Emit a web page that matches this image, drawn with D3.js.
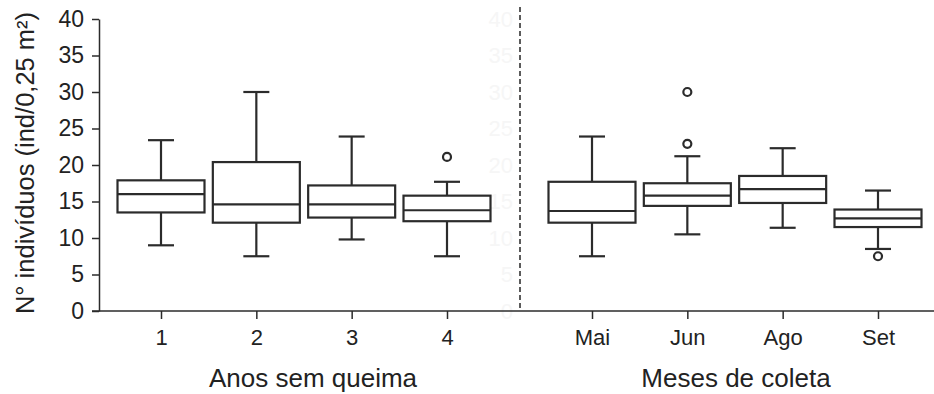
<!DOCTYPE html>
<html>
<head>
<meta charset="utf-8">
<script src="https://cdn.jsdelivr.net/npm/d3@7"></script>
<style>
  body { margin: 0; background: #fff; }
  svg text { font-family: "Liberation Sans", Arial, sans-serif; fill: #222; }
</style>
</head>
<body>
<div id="chart"></div>
<script>
// categories
const anos = ['1', '2', '3', '4'];
const meses = ['Mai', 'Jun', 'Ago', 'Set'];
const categories = anos.concat(meses);

// box statistics, same order as categories
const whiskLow = [9.0, 7.5, 9.8, 7.5, 7.5, 10.5, 11.4, 8.5];
const q1       = [13.5, 12.1, 12.8, 12.3, 12.1, 14.4, 14.8, 11.5];
const median   = [16.0, 14.6, 14.6, 13.8, 13.7, 15.8, 16.7, 12.7];
const q3       = [17.9, 20.4, 17.2, 15.8, 17.7, 17.5, 18.5, 13.9];
const whiskHigh = [23.4, 30.0, 23.9, 17.7, 23.9, 21.2, 22.3, 16.5];
const outliers = [[], [], [], [21.1], [], [30.0, 22.9], [], [7.5]];

const yTicks = [0, 5, 10, 15, 20, 25, 30, 35, 40];

const W = 934, H = 394;
const ink = '#2b2b2b';

const svg = d3.select('#chart').append('svg')
    .attr('width', W)
    .attr('height', H);

const y = d3.scaleLinear().domain([0, 40]).range([311, 19]);
const xA = d3.scalePoint().domain(anos).range([161, 447]);
const xB = d3.scalePoint().domain(meses).range([592, 878]);
const xPos = (c) => anos.includes(c) ? xA(c) : xB(c);
const boxW = 87, capW = 26;

// faint ghost axis labels in the middle
svg.append('g')
    .selectAll('text')
    .data(yTicks)
    .join('text')
    .attr('x', 513)
    .attr('y', d => y(d))
    .attr('dy', '0.35em')
    .attr('text-anchor', 'end')
    .style('font-size', '22px')
    .style('fill', '#f6f6f6')
    .text(d => d);

// divider
svg.append('line')
    .attr('x1', 520).attr('x2', 520)
    .attr('y1', 7).attr('y2', 311)
    .attr('stroke', '#333')
    .attr('stroke-width', 1.6)
    .attr('stroke-dasharray', '5,3');

// y axis
const yAxis = svg.append('g')
    .attr('transform', 'translate(99,0)')
    .call(d3.axisLeft(y).tickValues(yTicks).tickSize(7).tickSizeOuter(0).tickPadding(8));
yAxis.selectAll('path, line').attr('stroke', ink).attr('stroke-width', 1.5);
yAxis.selectAll('text').style('font-size', '23px').style('fill', '#222');

// x axes
const axA = svg.append('g')
    .attr('transform', 'translate(0,311)')
    .call(d3.axisBottom(xA).tickSize(8).tickSizeOuter(0).tickPadding(10));
const axB = svg.append('g')
    .attr('transform', 'translate(0,311)')
    .call(d3.axisBottom(xB).tickSize(8).tickSizeOuter(0).tickPadding(10));
[axA, axB].forEach(a => {
    a.select('.domain').remove();
    a.selectAll('line').attr('stroke', ink).attr('stroke-width', 1.5);
    a.selectAll('text').style('font-size', '22px').style('fill', '#222');
});
svg.append('line')
    .attr('x1', 92).attr('x2', W)
    .attr('y1', 311).attr('y2', 311)
    .attr('stroke', ink)
    .attr('stroke-width', 1.5);

// boxes
const boxes = svg.append('g')
    .selectAll('g')
    .data(categories)
    .join('g')
    .attr('transform', c => `translate(${xPos(c)},0)`);

boxes.append('line')
    .attr('x1', 0).attr('x2', 0)
    .attr('y1', (c, i) => y(whiskHigh[i]))
    .attr('y2', (c, i) => y(q3[i]));
boxes.append('line')
    .attr('x1', 0).attr('x2', 0)
    .attr('y1', (c, i) => y(q1[i]))
    .attr('y2', (c, i) => y(whiskLow[i]));
boxes.append('line')
    .attr('x1', -capW / 2).attr('x2', capW / 2)
    .attr('y1', (c, i) => y(whiskHigh[i]))
    .attr('y2', (c, i) => y(whiskHigh[i]));
boxes.append('line')
    .attr('x1', -capW / 2).attr('x2', capW / 2)
    .attr('y1', (c, i) => y(whiskLow[i]))
    .attr('y2', (c, i) => y(whiskLow[i]));
boxes.append('rect')
    .attr('x', -boxW / 2)
    .attr('width', boxW)
    .attr('y', (c, i) => y(q3[i]))
    .attr('height', (c, i) => y(q1[i]) - y(q3[i]))
    .attr('fill', 'none');
boxes.append('line')
    .attr('x1', -boxW / 2).attr('x2', boxW / 2)
    .attr('y1', (c, i) => y(median[i]))
    .attr('y2', (c, i) => y(median[i]));
boxes.selectAll('circle')
    .data((c, i) => outliers[i])
    .join('circle')
    .attr('cx', 0)
    .attr('cy', d => y(d))
    .attr('r', 4)
    .attr('fill', 'none');
boxes.selectAll('line, rect, circle')
    .attr('stroke', ink)
    .attr('stroke-width', 2.2);

// titles
svg.append('text')
    .attr('transform', 'translate(34,163) rotate(-90)')
    .attr('text-anchor', 'middle')
    .style('font-size', '25.5px')
    .text('N° indivíduos (ind/0,25 m²)');
svg.append('text')
    .attr('x', 313).attr('y', 387)
    .attr('text-anchor', 'middle')
    .style('font-size', '26px')
    .text('Anos sem queima');
svg.append('text')
    .attr('x', 736).attr('y', 387)
    .attr('text-anchor', 'middle')
    .style('font-size', '26px')
    .text('Meses de coleta');
</script>
</body>
</html>
